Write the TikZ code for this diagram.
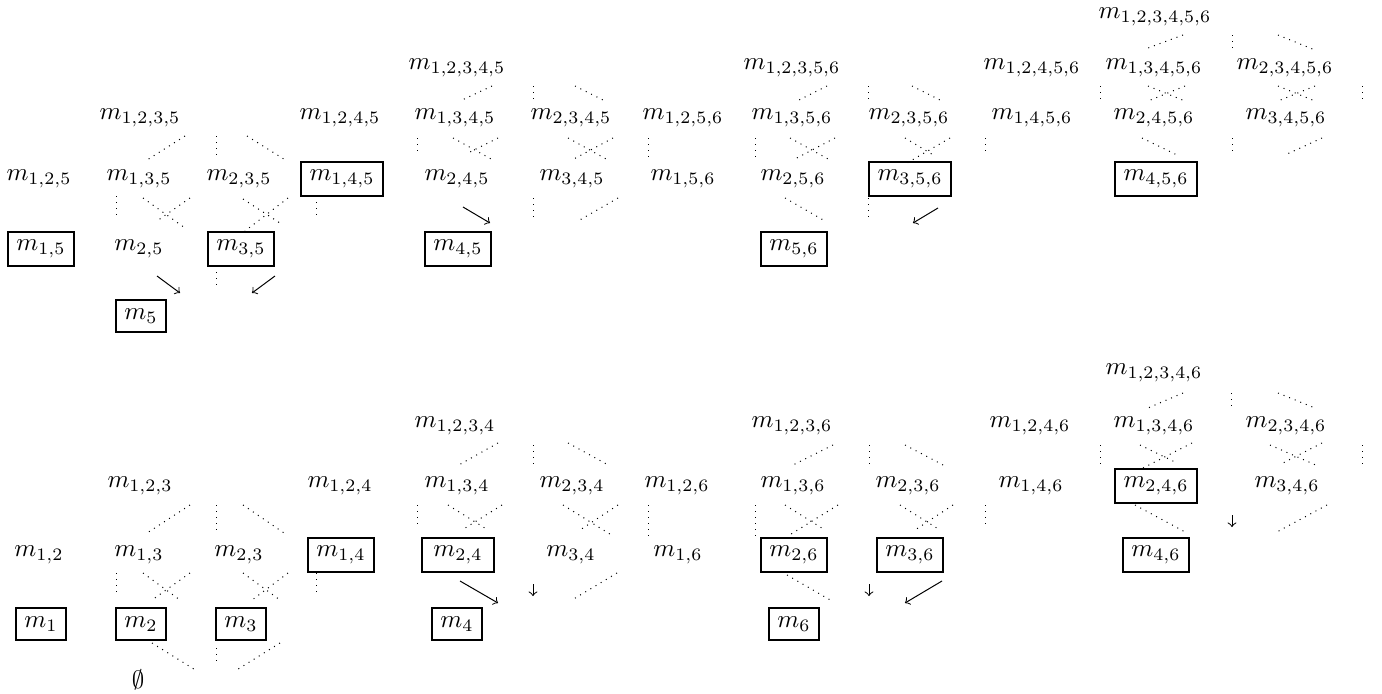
\documentclass[tikz,border=0pt]{standalone}
\usepackage{amssymb}
\begin{document}
\begin{tikzpicture}[x=0.4pt,y=-0.4pt,caja/.style={draw,thick},punteada/.style={dotted,thin}]
        \useasboundingbox (0,-3) rectangle (1382,691);
        % mitad superior
        \node (m123456) at (1155,14) {$m_{1,2,3,4,5,6}$};
        \node (m12345) at (457,65) {$m_{1,2,3,4,5}$};
        \node (m12356) at (792,65) {$m_{1,2,3,5,6}$};
        \node (m12456) at (1032,65) {$m_{1,2,4,5,6}$};
        \node (m13456) at (1154,65) {$m_{1,3,4,5,6}$};
        \node (m23456) at (1285,65) {$m_{2,3,4,5,6}$};
        \node (m1235) at (140,115) {$m_{1,2,3,5}$};
        \node (m1245) at (340,115) {$m_{1,2,4,5}$};
        \node (m1345) at (455,115) {$m_{1,3,4,5}$};
        \node (m2345) at (571,115) {$m_{2,3,4,5}$};
        \node (m1256) at (683,115) {$m_{1,2,5,6}$};
        \node (m1356) at (792,115) {$m_{1,3,5,6}$};
        \node (m2356) at (909,115) {$m_{2,3,5,6}$};
        \node (m1456) at (1032,115) {$m_{1,4,5,6}$};
        \node (m2456) at (1154,115) {$m_{2,4,5,6}$};
        \node (m3456) at (1286,115) {$m_{3,4,5,6}$};
        \node (m125) at (39,176) {$m_{1,2,5}$};
        \node (m135) at (139,176) {$m_{1,3,5}$};
        \node (m235) at (239,176) {$m_{2,3,5}$};
        \node[caja] (m145) at (342,176) {$m_{1,4,5}$};
        \node (m245) at (457,176) {$m_{2,4,5}$};
        \node (m345) at (572,176) {$m_{3,4,5}$};
        \node (m156) at (683,176) {$m_{1,5,6}$};
        \node (m256) at (793,176) {$m_{2,5,6}$};
        \node[caja] (m356) at (910,176) {$m_{3,5,6}$};
        \node[caja] (m456) at (1156,176) {$m_{4,5,6}$};
        \node[caja] (m15) at (41,246) {$m_{1,5}$};
        \node (m25) at (139,246) {$m_{2,5}$};
        \node[caja] (m35) at (241,246) {$m_{3,5}$};
        \node[caja] (m45) at (458,246) {$m_{4,5}$};
        \node[caja] (m56) at (794,246) {$m_{5,6}$};
        \node[caja] (m5) at (141,313) {$m_{5}$};
        % mitad inferior
        \node (m12346) at (1154,370) {$m_{1,2,3,4,6}$};
        \node (m1234) at (455,423) {$m_{1,2,3,4}$};
        \node (m1236) at (792,423) {$m_{1,2,3,6}$};
        \node (m1246) at (1030,423) {$m_{1,2,4,6}$};
        \node (m1346) at (1154,423) {$m_{1,3,4,6}$};
        \node (m2346) at (1286,423) {$m_{2,3,4,6}$};
        \node (m123) at (140,483) {$m_{1,2,3}$};
        \node (m124) at (340,483) {$m_{1,2,4}$};
        \node (m134) at (457,483) {$m_{1,3,4}$};
        \node (m234) at (572,483) {$m_{2,3,4}$};
        \node (m126) at (677,483) {$m_{1,2,6}$};
        \node (m136) at (793,483) {$m_{1,3,6}$};
        \node (m236) at (908,483) {$m_{2,3,6}$};
        \node (m146) at (1031,483) {$m_{1,4,6}$};
        \node[caja] (m246) at (1156,483) {$m_{2,4,6}$};
        \node (m346) at (1287,483) {$m_{3,4,6}$};
        \node (m12) at (39,552) {$m_{1,2}$};
        \node (m13) at (139,552) {$m_{1,3}$};
        \node (m23) at (239,552) {$m_{2,3}$};
        \node[caja] (m14) at (341,552) {$m_{1,4}$};
        \node[caja,minimum width=29pt] (m24) at (458,552) {$m_{2,4}$\hspace{3pt}};
        \node (m34) at (571,552) {$m_{3,4}$};
        \node (m16) at (678,552) {$m_{1,6}$};
        \node[caja] (m26) at (794,552) {$m_{2,6}$};
        \node[caja] (m36) at (910,552) {$m_{3,6}$};
        \node[caja] (m46) at (1156,552) {$m_{4,6}$};
        \node[caja] (m1) at (41,621) {$m_{1}$};
        \node[caja] (m2) at (141,621) {$m_{2}$};
        \node[caja] (m3) at (241,621) {$m_{3}$};
        \node[caja] (m4) at (457,621) {$m_{4}$};
        \node[caja] (m6) at (794,621) {$m_{6}$};
        \node (vacio) at (138,677) {$\emptyset$};
        % lineas punteadas
        \foreach \a/\b/\c/\d in {185/133/147/157, 216/133/216/155, 247/133/287/158,
          116/193/116/217, 143/195/185/225, 190/195/157/218, 243/196/283/222,
          288/195/245/228, 316/193/316/216, 216/263/216/285,
          492/83/460/98, 533/83/533/97, 575/83/605/98, 417/135/417/150,
          453/135/493/157, 498/135/468/150, 568/135/608/157, 613/135/572/157,
          648/135/648/155, 533/195/533/215, 618/195/578/218,
          827/83/797/98, 868/83/868/98, 912/83/942/98, 755/135/755/155,
          790/135/830/157, 835/135/793/157, 905/135/935/153, 950/135/907/160,
          985/135/985/150, 785/195/825/218, 868/195/868/215,
          1183/32/1148/45, 1232/32/1232/45, 1278/32/1315/47,
          1100/83/1100/98, 1148/83/1185/98, 1185/83/1148/98, 1278/83/1315/98,
          1315/83/1278/98, 1362/83/1362/98, 1142/135/1177/152,
          1232/135/1232/148, 1322/135/1285/152}
          \draw[punteada] (\a,\b) -- (\c,\d);
        \foreach \a/\b/\c/\d in {190/502/147/530, 216/502/216/528, 243/502/287/532,
          116/570/116/592, 143/570/180/597, 190/570/152/597, 243/570/280/597,
          288/570/252/597, 316/570/316/592, 152/640/197/668, 216/645/216/660,
          280/640/235/668,
          498/440/457/463, 533/442/533/462, 568/440/610/463, 417/502/417/523,
          448/502/488/527, 502/502/462/527, 563/502/613/533, 618/502/580/527,
          648/502/648/533, 617/570/572/597,
          833/442/793/462, 869/442/869/462, 905/442/945/463, 755/502/755/533,
          785/502/825/527, 838/502/788/533, 900/502/940/527, 953/502/915/527,
          985/502/985/522, 787/572/832/598,
          1183/390/1148/405, 1231/390/1231/405, 1278/390/1315/405,
          1100/442/1100/462, 1140/442/1177/460, 1192/440/1143/465,
          1270/442/1318/463, 1322/440/1283/460, 1362/442/1362/462,
          1135/502/1187/530, 1327/502/1275/530}
          \draw[punteada] (\a,\b) -- (\c,\d);
        % flechas
        \foreach \a/\b/\c/\d in {157/273/180/290, 275/273/252/290, 463/204/490/220,
          938/205/913/220, 460/578/498/600, 942/578/905/600,
          533/581/533/593, 869/581/869/593, 1232/512/1232/524}
          \draw[->] (\a,\b) -- (\c,\d);
\end{tikzpicture}
\end{document}
